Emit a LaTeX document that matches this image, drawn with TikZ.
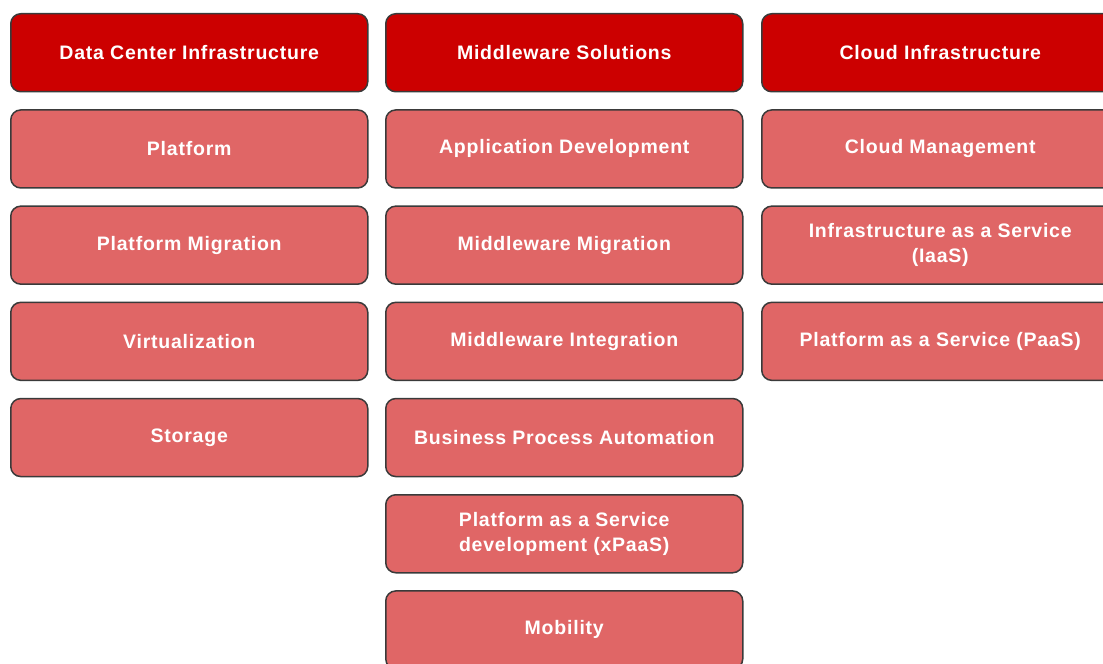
\documentclass[tikz,border=0pt]{standalone}
\usepackage{fontspec}
\setmainfont{Liberation Sans}
\newfontfamily\boxfont[LetterSpace=4]{Liberation Sans}
\definecolor{darkred}{HTML}{CC0000}
\definecolor{lightred}{HTML}{E06666}
\definecolor{edge}{HTML}{3A3A3A}
\begin{document}
\begin{tikzpicture}[x=1bp,y=-1bp,
  box/.style={draw=edge,line width=1.5bp,rounded corners=10bp,
    minimum width=357bp,minimum height=78bp,anchor=north west,
    text=white,align=center,inner sep=0pt,
    font=\boxfont\fontsize{19.5bp}{25bp}\selectfont\bfseries},
  head/.style={box,fill=darkred},
  item/.style={box,fill=lightred}]
\useasboundingbox (0,0) rectangle (1103,664);
% column 1
\node[head] (h1) at (10,13) {Data Center Infrastructure};
\node[item] (a1) at (10,109.2) {Platform};
\node[item] (a2) at (10,205.4) {Platform Migration};
\node[item] (a3) at (10,301.6) {Virtualization};
\node[item] (a4) at (10,397.8) {Storage};
% column 2
\node[head] (h2) at (385,13) {Middleware Solutions};
\node[item] (b1) at (385,109.2) {Application Development};
\node[item] (b2) at (385,205.4) {Middleware Migration};
\node[item] (b3) at (385,301.6) {Middleware Integration};
\node[item] (b4) at (385,397.8) {Business Process Automation};
\node[item] (b5) at (385,494) {Platform as a Service\\development (xPaaS)};
\node[item] (b6) at (385,590.2) {Mobility};
% column 3
\node[head] (h3) at (761,13) {Cloud Infrastructure};
\node[item] (c1) at (761,109.2) {Cloud Management};
\node[item] (c2) at (761,205.4) {Infrastructure as a Service\\(IaaS)};
\node[item] (c3) at (761,301.6) {Platform as a Service (PaaS)};
\end{tikzpicture}
\end{document}
